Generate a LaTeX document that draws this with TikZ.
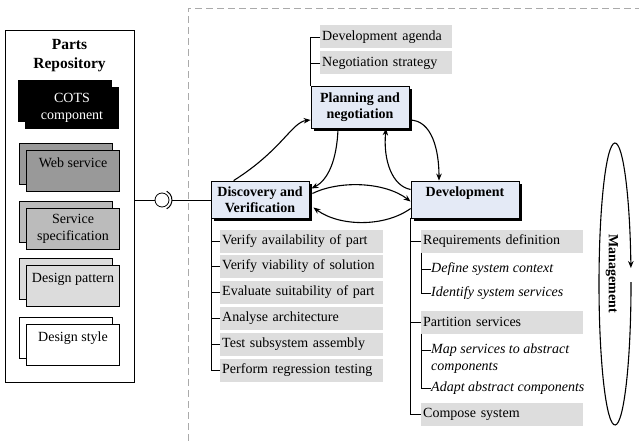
\documentclass[tikz,border=0pt]{standalone}
\usepackage{fontspec}
\setmainfont{Liberation Serif}
\usetikzlibrary{arrows.meta,shadows,calc}
\definecolor{boxblue}{HTML}{E4EAF6}
\definecolor{itemgray}{HTML}{DDDDDD}
\definecolor{webgray}{HTML}{999999}
\definecolor{specgray}{HTML}{BBBBBB}
\definecolor{patgray}{HTML}{DCDCDC}
\definecolor{framegray}{HTML}{AAAAAA}

\begin{document}
\begin{tikzpicture}[x=1pt,y=1pt,
  every node/.style={font=\fontsize{14}{16.5}\selectfont, inner sep=0pt},
  phase/.style={draw, line width=0.8pt, fill=boxblue, align=center,
    font=\fontsize{14}{16}\selectfont\bfseries,
    drop shadow={shadow xshift=3pt, shadow yshift=-3pt, opacity=1, fill=black}},
  item/.style={fill=itemgray, anchor=west, minimum height=23pt, inner xsep=2pt, align=left},
  subitem/.style={anchor=west, font=\fontsize{14}{16.5}\selectfont\itshape, align=left},
  part/.style={draw, line width=0.7pt, minimum width=93pt, minimum height=41pt, align=center},
  tree/.style={line width=0.8pt},
  flow/.style={line width=1.1pt, -{Stealth[length=7pt,width=5.5pt]}},
]
\useasboundingbox (0,0) rectangle (639,-441);

% dashed frame of the process area
\draw[framegray, line width=0.7pt, dash pattern=on 7pt off 4pt] (188,-441) -- (188,-8) -- (639,-8);

% parts repository
\node[draw, line width=0.8pt, minimum width=129pt, minimum height=352pt] (repo) at (69.5,-206) {};
\node[font=\fontsize{15.5}{19}\selectfont\bfseries, align=center] (repotitle) at (69.5,-56) {Parts\\Repository};

\node[part, fill=black] (cotsback) at (65,-101) {};
\node[part, fill=black, text=white] (cots) at (72,-108) {COTS\\component};
\node[part, fill=webgray] (webback) at (66,-163.5) {};
\node[part, fill=webgray] (web) at (73,-170.5) {Web service\\\mbox{}};
\node[part, fill=specgray] (specback) at (66,-222) {};
\node[part, fill=specgray] (spec) at (73,-229) {Service\\specification};
\node[part, fill=patgray] (patback) at (66,-279) {};
\node[part, fill=patgray] (pat) at (73,-286) {Design pattern\\\mbox{}};
\node[part, fill=white] (styleback) at (66,-338) {};
\node[part, fill=white] (style) at (73,-345) {Design style\\\mbox{}};

% process phases
\node[phase, minimum width=98pt, minimum height=37pt] (disc) at (260,-199.5) {Discovery and\\Verification};
\node[phase, minimum width=98pt, minimum height=42pt] (plan) at (360,-107) {Planning and\\negotiation};
\node[phase, minimum width=108pt, minimum height=37pt] (dev) at (465,-199.5) {Development\\\mbox{}};

% provided / required interface between repository and discovery
\coordinate (ball) at (162,-200);
\draw[tree] (repo.east |- ball) -- ($(ball)+(-7,0)$);
\draw[line width=0.8pt] (ball) circle[radius=7pt];
\draw[line width=1pt] ($(ball)+(62:10pt)$) arc[start angle=62, end angle=-62, radius=10pt];
\draw[tree] ($(ball)+(10,0)$) -- (disc.west |- ball);

% planning activities
\node[item, text width=128pt] (pa) at (320,-37) {Development agenda};
\node[item, text width=128pt] (pb) at (320,-63) {Negotiation strategy};
\draw[tree] (plan.north west) |- (pa.west);
\draw[tree] (plan.north west |- pb.west) -- (pb.west);

% discovery activities
\node[item, text width=159pt] (d1) at (220,-241) {Verify availability of part};
\node[item, text width=159pt] (d2) at (220,-266) {Verify viability of solution};
\node[item, text width=159pt] (d3) at (220,-292) {Evaluate suitability of part};
\node[item, text width=159pt] (d4) at (220,-318) {Analyse architecture};
\node[item, text width=159pt] (d5) at (220,-344) {Test subsystem assembly};
\node[item, text width=159pt] (d6) at (220,-370) {Perform regression testing};
\draw[tree] ([xshift=1pt]disc.south west) |- (d6.west);
\foreach \k in {d1,d2,d3,d4,d5}
  \draw[tree] ([xshift=1pt]disc.south west |- \k.west) -- (\k.west);

% development activities
\node[item, text width=158pt] (r1) at (421,-241) {Requirements definition};
\node[subitem] (s1) at (431,-269) {Define system context};
\node[subitem] (s2) at (431,-293) {Identify system services};
\node[item, text width=158pt] (r2) at (421,-322) {Partition services};
\node[subitem] (s3) at (431,-358.5) {Map services to abstract\\components};
\node[subitem] (s4) at (431,-388) {Adapt abstract components};
\node[item, text width=158pt] (r3) at (421,-414) {Compose system};
\coordinate (s3a) at ($(s3.west)+(0,8.5)$);

\draw[tree] (dev.south west) |- (r3.west);
\draw[tree] (dev.south west |- r1.west) -- (r1.west);
\draw[tree] (dev.south west |- r2.west) -- (r2.west);
\draw[tree] (r1.south west) |- (s2.west);
\draw[tree] (r1.south west |- s1.west) -- (s1.west);
\draw[tree] (r2.south west) |- (s4.west);
\draw[tree] (r2.south west |- s3a) -- (s3a);

% iteration between phases
\draw[flow] ([yshift=-13pt]plan.east) .. controls (432,-120) and (439,-150) .. ([xshift=-26pt]dev.north);
\draw[flow] ([yshift=10pt]dev.west) .. controls (392,-186) and (383,-160) .. ([xshift=26pt]plan.south);
\draw[flow] ([xshift=-22pt]plan.south) .. controls (337,-160) and (328,-180) .. ([xshift=2pt,yshift=11pt]disc.east);
\draw[flow] ([xshift=23pt]disc.north west) .. controls (282,-150) and (292,-122) .. ([yshift=-13pt]plan.west);
\draw[flow] ([xshift=3pt,yshift=6pt]disc.east) .. controls (340,-180) and (385,-182) .. ([yshift=-2pt]dev.west);
\draw[flow] ([yshift=-9pt]dev.west) .. controls (385,-227) and (340,-227) .. ([xshift=4pt,yshift=-8pt]disc.east);

% management cycle
\coordinate (mg) at (615,-284);
\draw[line width=1.1pt, -{Stealth[length=7pt,width=5.5pt]}] (mg) ++(0.8:16pt and 141pt)
  arc[start angle=0.8, end angle=-353.5, x radius=16pt, y radius=141pt];
\node[font=\fontsize{14}{16}\selectfont\bfseries, rotate=-90] (mgmt) at (612,-274) {Management};
\end{tikzpicture}
\end{document}
